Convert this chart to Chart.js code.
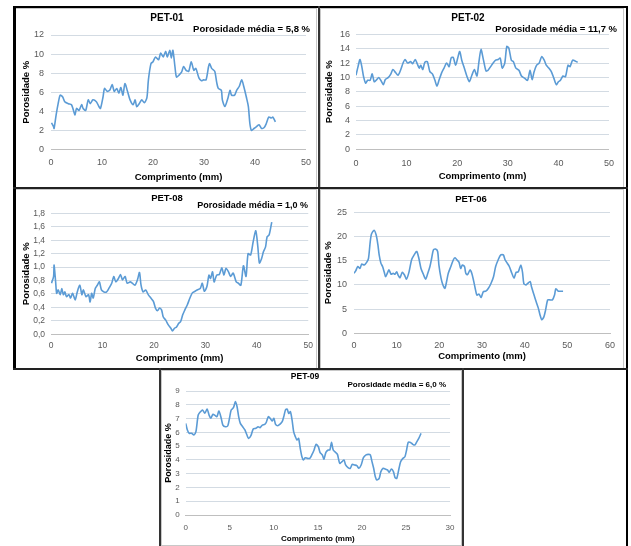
<!DOCTYPE html>
<html>
<head>
<meta charset="utf-8">
<script src="https://cdn.jsdelivr.net/npm/chart.js@4.4.0/dist/chart.umd.min.js"></script>
<style>
body{margin:0;width:631px;height:546px;background:#fff;position:relative;overflow:hidden}
.ln{position:absolute;background:#000}
.gr{position:absolute;border:1px solid #c8c8c8;box-sizing:border-box}
canvas{position:absolute;display:block}
</style>
</head>
<body>
<div class="gr" style="left:15px;top:8px;width:302px;height:180px"></div>
<div class="gr" style="left:320px;top:8px;width:304px;height:180px"></div>
<div class="gr" style="left:15px;top:189px;width:302px;height:180px"></div>
<div class="gr" style="left:320px;top:189px;width:304px;height:180px"></div>
<div class="gr" style="left:161px;top:370px;width:301px;height:176px"></div>

<canvas id="c1" width="303" height="179" style="left:16px;top:9px"></canvas>
<canvas id="c2" width="303" height="180" style="left:320px;top:8px"></canvas>
<canvas id="c3" width="303" height="179" style="left:16px;top:190px"></canvas>
<canvas id="c4" width="303" height="179" style="left:320px;top:190px"></canvas>
<canvas id="c5" width="301" height="176" style="left:161px;top:370px"></canvas>

<div class="ln" style="left:13px;top:6px;width:615px;height:2px"></div>
<div class="ln" style="left:13px;top:6px;width:3px;height:364px"></div>
<div class="ln" style="left:626px;top:6px;width:2px;height:540px"></div>
<div class="ln" style="left:318px;top:6px;width:1.5px;height:364px;background:#333"></div>
<div class="ln" style="left:13px;top:187px;width:615px;height:1.5px;background:#222"></div>
<div class="ln" style="left:13px;top:368px;width:615px;height:1.5px;background:#222"></div>
<div class="ln" style="left:159px;top:368px;width:1.5px;height:178px;background:#333"></div>
<div class="ln" style="left:462px;top:368px;width:1.5px;height:178px;background:#333"></div>

<script>
// PET-01
let pet01X = [0.1,0.5,0.6,1.0,1.4,1.8,2.3,2.7,3.4,4.0,
  4.3,4.7,5.0,5.5,6.0,6.3,6.8,7.3,7.7,8.2,
  8.9,9.4,9.7,10.2,10.5,11.0,11.5,12.0,12.4,12.9,
  13.3,13.7,14.1,14.5,15.0,15.5,16.1,16.5,16.8,17.3,
  17.8,18.3,18.8,19.1,19.6,20.0,20.5,21.1,21.5,22.0,
  22.5,22.8,23.3,23.6,23.9,24.3,24.6,25.1,25.6,26.0,
  26.5,27.0,27.5,28.0,28.4,29.0,29.5,29.9,30.4,30.9,
  31.1,31.5,32.1,32.5,32.8,33.4,33.6,34.1,34.7,35.1,
  35.4,36.0,36.4,36.9,37.4,37.8,38.3,38.7,39.0,39.3,
  39.8,40.3,40.8,41.3,41.8,42.2,42.7,43.2,43.5,44.0];
let pet01Y = [2.8,2.4,2.2,3.6,4.8,5.7,5.5,5.0,4.8,4.7,
  4.3,3.6,4.3,4.1,4.7,4.3,4.1,5.2,4.8,5.2,
  5.0,4.5,4.3,5.5,6.4,6.1,6.2,6.8,6.1,6.4,
  5.9,6.5,5.7,6.9,6.1,5.2,4.7,5.2,4.5,4.8,
  5.2,4.9,5.4,7.3,9.0,9.2,9.7,9.4,10.1,9.7,
  10.3,9.7,10.4,9.6,10.4,8.7,7.6,7.8,8.1,8.7,
  8.3,8.2,9.2,8.3,8.5,7.5,7.2,7.3,7.3,8.7,
  9.0,8.5,8.2,7.0,6.4,6.2,5.2,4.5,5.4,6.2,
  5.7,5.7,6.2,6.6,7.3,6.6,5.5,4.5,2.7,2.0,
  2.2,2.4,2.6,2.2,2.3,2.7,3.4,3.3,3.4,2.9];

// PET-02
let pet02X = [0,0.4,0.8,1.2,1.5,1.9,2.3,2.8,3.2,3.6,
  4.1,4.5,4.9,5.4,5.8,6.4,6.9,7.3,7.8,8.3,
  8.8,9.3,9.7,10.2,10.8,11.2,11.7,12.1,12.5,12.8,
  13.2,13.6,14.1,14.6,15.1,15.6,16.0,16.4,16.9,17.4,
  17.9,18.4,18.8,19.2,19.7,20.1,20.5,20.9,21.4,21.9,
  22.4,22.9,23.4,23.9,24.3,24.7,25.2,25.7,26.1,26.6,
  27.1,27.6,28.1,28.5,28.9,29.4,29.8,30.2,30.7,31.1,
  31.6,32.2,32.7,33.3,33.9,34.4,34.8,35.2,35.7,36.2,
  36.7,37.2,37.6,38.1,38.6,39.1,39.6,40.0,40.4,40.9,
  41.4,41.9,42.3,42.8,43.3,43.8];
let pet02Y = [10.3,11.5,12.5,11.3,10.1,9.2,9.6,9.6,10.5,9.4,
  9.7,10.0,9.6,9.0,9.7,10.0,10.5,11.1,10.7,10.3,
  11.0,12.0,12.5,12.0,12.2,11.9,12.5,11.9,11.3,11.7,
  11.1,12.1,12.2,10.8,10.5,9.6,8.8,9.6,10.6,11.3,
  12.0,11.5,12.7,12.8,11.7,12.7,13.6,12.4,11.3,10.2,
  9.4,10.3,11.1,10.2,12.2,13.9,12.4,10.9,11.0,11.5,
  12.0,12.4,12.5,12.7,11.3,12.0,14.3,14.1,12.4,12.2,
  11.3,11.0,10.2,9.9,9.6,11.0,9.7,10.8,11.7,12.0,
  12.9,12.4,11.7,11.3,10.8,9.9,9.0,9.4,9.6,10.2,
  10.1,11.7,11.5,12.4,12.3,12.1];

// PET-08
let pet08X = [0.1,0.5,0.6,0.9,1.1,1.4,1.8,2.1,2.4,2.7,
  3.0,3.5,3.8,4.2,4.7,5.1,5.6,6.0,6.3,6.8,
  7.3,7.6,7.9,8.2,8.6,9.0,9.4,9.8,10.3,10.8,
  11.3,11.8,12.2,12.6,13.1,13.5,13.9,14.4,14.8,15.4,
  15.8,16.3,16.8,17.2,17.5,17.9,18.4,18.9,19.4,19.9,
  20.3,20.7,21.1,21.5,21.8,22.3,22.8,23.3,23.6,24.0,
  24.4,24.8,25.2,25.6,26.0,26.5,27.0,27.5,28.0,28.4,
  29.0,29.4,29.8,30.3,30.7,31.0,31.4,31.7,32.2,32.7,
  33.2,33.6,34.0,34.5,34.9,35.4,36.0,36.4,36.9,37.4,
  37.9,38.3,38.8,39.3,39.8,40.2,40.5,40.9,41.3,41.7,
  42.0,42.4,42.9];
let pet08Y = [0.76,0.86,1.03,0.78,0.61,0.66,0.59,0.68,0.59,0.63,
  0.56,0.59,0.54,0.61,0.51,0.63,0.73,0.59,0.66,0.56,
  0.59,0.48,0.61,0.54,0.68,0.73,0.78,0.66,0.63,0.63,
  0.69,0.76,0.86,0.78,0.83,0.89,0.81,0.86,0.76,0.78,
  0.76,0.73,0.81,0.92,0.73,0.63,0.66,0.59,0.54,0.49,
  0.39,0.35,0.39,0.36,0.26,0.21,0.14,0.09,0.05,0.09,
  0.11,0.16,0.19,0.29,0.36,0.44,0.54,0.62,0.64,0.66,
  0.68,0.76,0.64,0.71,0.88,0.83,0.93,0.78,0.88,0.89,
  0.99,0.88,0.98,0.93,0.86,0.91,0.78,0.76,0.73,1.02,
  0.86,1.2,1.18,1.38,1.54,1.3,1.06,1.12,1.23,1.3,
  1.45,1.48,1.67];

// PET-06
let pet06X = [0,0.4,0.9,1.4,1.8,2.4,3.0,3.4,3.8,4.1,
  4.7,5.2,5.6,5.9,6.3,6.7,7.1,7.4,7.9,8.2,
  8.7,9.2,9.6,10.0,10.4,10.8,11.3,11.8,12.3,12.9,
  13.5,14.1,14.7,15.2,15.7,16.3,16.8,17.3,17.8,18.2,
  18.6,19.1,19.6,19.9,20.4,20.8,21.3,21.7,22.1,22.7,
  23.3,23.7,24.1,24.6,25.0,25.4,25.9,26.2,26.6,27.2,
  27.6,28.0,28.4,28.8,29.3,29.8,30.3,30.9,31.5,32.1,
  32.7,33.2,33.8,34.4,35.0,35.4,35.9,36.4,37.0,37.5,
  38.0,38.5,39.1,39.5,39.8,40.3,40.7,41.3,41.6,42.2,
  42.7,43.2,43.6,44.0,44.5,44.9,45.4,45.9,46.5,47.0,
  47.3,47.9,48.4,49.0];
let pet06Y = [12.4,12.9,13.8,13.4,14.3,14.1,14.7,15.5,18.9,20.5,
  21.3,20.3,18.3,16.2,14.5,13.8,12.6,11.7,12.6,13.1,
  12.2,12.4,12.2,12.7,11.9,11.5,12.6,12.1,11.2,12.7,
  15.2,16.2,16.9,15.5,13.4,12.1,11.2,12.4,13.8,15.5,
  17.2,17.4,16.9,14.1,11.4,10.1,9.3,10.7,12.4,13.8,
  15.2,15.6,15.2,14.7,13.4,14.1,13.8,12.4,12.1,13.1,
  12.4,11.0,9.3,7.9,8.1,7.4,8.6,8.7,9.3,10.3,
  11.7,13.8,15.2,16.2,16.2,15.2,14.5,13.8,12.4,11.4,
  12.6,12.7,14.1,12.6,10.3,10.0,10.3,10.7,9.6,7.9,
  6.5,5.2,3.8,2.8,3.4,4.8,6.9,6.9,6.9,7.9,
  9.2,8.7,8.7,8.7];

// PET-09
let pet09X = [0,0.19,0.41,0.67,0.93,1.16,1.42,1.68,1.91,2.17,
  2.43,2.65,2.84,3.1,3.36,3.55,3.77,4.03,4.22,4.52,
  4.78,4.97,5.16,5.42,5.64,5.83,6.01,6.2,6.46,6.72,
  6.95,7.13,7.4,7.66,7.96,8.22,8.44,8.7,8.97,9.15,
  9.38,9.64,9.82,10.01,10.2,10.46,10.68,10.95,11.13,11.32,
  11.51,11.69,11.88,12.07,12.25,12.44,12.63,12.81,13.0,13.19,
  13.37,13.56,13.82,14.08,14.31,14.57,14.79,15.05,15.24,15.5,
  15.69,15.91,16.17,16.36,16.55,16.74,17.0,17.22,17.48,17.74,
  17.97,18.15,18.42,18.68,18.9,19.16,19.42,19.65,19.91,20.17,
  20.47,20.73,20.95,21.14,21.33,21.52,21.7,21.96,22.15,22.41,
  22.64,22.9,23.09,23.35,23.57,23.76,23.95,24.21,24.39,24.65,
  24.88,25.07,25.25,25.51,25.77,26.0,26.19,26.45,26.71];
let pet09Y = [6.65,6.17,5.93,5.93,5.81,6.05,7.26,7.5,7.62,7.38,
  7.69,7.26,7.02,7.31,7.21,7.14,7.55,7.02,6.53,6.41,
  6.48,7.02,7.62,7.79,8.23,7.86,7.14,6.65,6.41,6.17,
  5.81,5.56,5.76,6.24,6.29,6.41,6.34,6.53,6.58,6.73,
  7.14,6.97,6.82,7.02,6.58,6.48,6.58,6.77,7.14,7.62,
  7.69,7.38,7.5,6.9,6.05,5.69,5.44,5.56,4.84,4.23,
  3.99,4.16,4.11,4.11,4.36,4.72,5.13,4.96,4.55,4.36,
  4.06,4.55,4.72,4.72,5.27,4.72,4.55,4.4,3.75,3.87,
  3.99,3.63,3.44,3.39,3.68,3.63,3.58,3.39,3.63,4.16,
  4.36,4.4,4.36,3.87,3.39,2.78,2.54,2.66,3.15,3.39,
  3.34,3.27,3.1,3.34,3.15,2.71,2.66,3.39,3.87,4.11,
  4.23,4.72,5.27,5.27,5.13,5.08,5.27,5.56,5.93];

let fam = '"Liberation Sans", Arial, sans-serif';
Chart.defaults.font.family = fam;
Chart.defaults.color = '#595959';

let textPlugin = {
  id: 'texts',
  afterDraw(chart, args, o) {
    let ctx = chart.ctx;
    ctx.save();
    ctx.fillStyle = '#000';
    ctx.textBaseline = 'middle';
    ctx.textAlign = 'center';
    ctx.font = 'bold ' + o.titleSize + 'px ' + fam;
    ctx.fillText(o.title, o.titleX, o.titleY);
    if (o.note) {
      ctx.textAlign = 'right';
      ctx.font = 'bold ' + o.noteSize + 'px ' + fam;
      ctx.fillText(o.note, o.noteX, o.noteY);
    }
    ctx.restore();
  }
};

function pts(xs, ys) {
  return xs.map((x, i) => ({x: x, y: ys[i]}));
}

function makeChart(id, xs, ys, p) {
  new Chart(document.getElementById(id), {
    type: 'line',
    data: { datasets: [{
      data: pts(xs, ys),
      borderColor: '#5b9bd5',
      borderWidth: 1.6,
      pointRadius: 0,
      tension: 0.25,
      fill: false
    }]},
    options: {
      responsive: false,
      animation: false,
      layout: { padding: { left: 0, right: p.padR, top: p.padT, bottom: 0 } },
      plugins: {
        legend: { display: false },
        tooltip: { enabled: false },
        texts: p.texts
      },
      scales: {
        x: {
          type: 'linear', min: 0, max: p.xMax,
          grid: { display: false, drawTicks: false },
          border: { display: true, color: '#bfbfbf' },
          ticks: { stepSize: p.xStep, padding: p.xTickPad, font: { size: p.tickSize },
                   maxRotation: 0, autoSkip: false },
          title: { display: true, text: 'Comprimento (mm)', color: '#000',
                   font: { size: p.axSize, weight: 'bold' }, padding: { top: 0, bottom: p.xTitlePad } },
          afterFit(s) { s.height = p.axisH; }
        },
        y: {
          min: 0, max: p.yMax,
          grid: { color: '#d3dbe3', drawTicks: false },
          border: { display: false },
          ticks: { stepSize: p.yStep, padding: p.yTickPad, font: { size: p.tickSize }, autoSkip: false,
                   callback: v => p.dec ? v.toFixed(p.dec).replace('.', ',') : v },
          title: { display: true, text: 'Porosidade %', color: '#000',
                   font: { size: p.yAxSize || p.axSize, weight: 'bold' }, padding: { top: p.yTitlePad, bottom: 0 } },
          afterFit(s) { s.width = p.axisW; }
        }
      }
    },
    plugins: [textPlugin]
  });
}

makeChart('c1', pet01X, pet01Y, {
  xMax: 50, xStep: 10, yMax: 12, yStep: 2, dec: 0,
  padR: 10, padT: 26, axisW: 35, axisH: 38.5,
  tickSize: 9, axSize: 9.5, xTickPad: 8, yTickPad: 7, xTitlePad: 5, yTitlePad: 5,
  texts: { title: 'PET-01', titleSize: 10, titleX: 151, titleY: 9,
           note: 'Porosidade média = 5,8 %', noteSize: 9.5, noteX: 294, noteY: 20 }
});

makeChart('c2', pet02X, pet02Y, {
  xMax: 50, xStep: 10, yMax: 16, yStep: 2, dec: 0,
  padR: 10, padT: 26.3, axisW: 36, axisH: 38.7,
  tickSize: 9, axSize: 9.5, xTickPad: 9, yTickPad: 6, xTitlePad: 6, yTitlePad: 4,
  texts: { title: 'PET-02', titleSize: 10, titleX: 148, titleY: 10,
           note: 'Porosidade média = 11,7 %', noteSize: 9.5, noteX: 297, noteY: 21 }
});

makeChart('c3', pet08X, pet08Y, {
  xMax: 50, xStep: 10, yMax: 1.8, yStep: 0.2, dec: 1,
  padR: 10.7, padT: 23.3, axisW: 35, axisH: 34.7,
  tickSize: 8.5, axSize: 9.5, xTickPad: 6, yTickPad: 6, xTitlePad: 4.5, yTitlePad: 5,
  texts: { title: 'PET-08', titleSize: 9.5, titleX: 151, titleY: 8,
           note: 'Porosidade média = 1,0 %', noteSize: 9, noteX: 292, noteY: 16 }
});

makeChart('c4', pet06X, pet06Y, {
  xMax: 60, xStep: 10, yMax: 25, yStep: 5, dec: 0,
  padR: 13, padT: 22.3, axisW: 34, axisH: 35.7,
  tickSize: 9, axSize: 9.5, xTickPad: 7, yTickPad: 7, xTitlePad: 7, yTitlePad: 3,
  texts: { title: 'PET-06', titleSize: 9.5, titleX: 151, titleY: 9 }
});

makeChart('c5', pet09X, pet09Y, {
  xMax: 30, xStep: 5, yMax: 9, yStep: 1, dec: 0,
  padR: 8.7, padT: 21, axisW: 24.7, axisH: 31,
  tickSize: 8, axSize: 8, yAxSize: 9, xTickPad: 7.5, yTickPad: 6, xTitlePad: 2, yTitlePad: 2.5,
  texts: { title: 'PET-09', titleSize: 8.5, titleX: 144, titleY: 7,
           note: 'Porosidade média = 6,0 %', noteSize: 8, noteX: 285, noteY: 15 }
});
</script>
</body>
</html>
